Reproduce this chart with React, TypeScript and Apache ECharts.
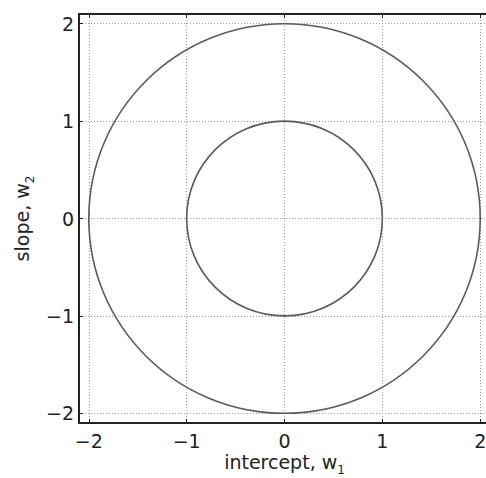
import React, { useEffect, useRef } from "react";
import * as echarts from "echarts";

const xTicks = [-2, -1, 0, 1, 2];
const yTicks = [-2, -1, 0, 1, 2];
const axisMin = -2.1;
const axisMax = 2.1;
// circles: [centerX, centerY, radius]
const circles = [
  [0, 0, 1],
  [0, 0, 2],
];
const xName = "intercept, w{sub|1}";
const yName = "slope, w{sub|2}";

const FONT = "DejaVu Sans";

const fmt = (v: number) => {
  if (!xTicks.includes(v) && !yTicks.includes(v)) return "";
  return v < 0 ? "\u2212" + Math.abs(v) : String(v);
};

export default function App() {
  const ref = useRef<HTMLDivElement>(null);
  useEffect(() => {
    document.body.style.margin = "0";
    const chart = echarts.init(ref.current!, null, { renderer: "svg" });
    const nameStyle = {
      fontFamily: FONT,
      fontSize: 19,
      color: "#222",
      lineHeight: 28,
      rich: {
        sub: { fontFamily: FONT, fontSize: 12, color: "#222", lineHeight: 10, verticalAlign: "bottom" },
      },
    };
    const commonAxis = {
      min: axisMin,
      max: axisMax,
      minInterval: 1,
      maxInterval: 1,
      axisLine: { show: true, onZero: false, lineStyle: { color: "#222", width: 2 } },
      axisTick: { show: true, inside: true, length: 4, lineStyle: { color: "#222", width: 1 } },
    };
    chart.setOption({
      animation: false,
      grid: {
        left: 79,
        top: 14,
        width: 411,
        height: 409,
        containLabel: false,
        outerBoundsMode: "none",
      },
      xAxis: [
        {
          ...commonAxis,
          type: "value",
          position: "bottom",
          name: xName,
          nameLocation: "middle",
          nameGap: 25,
          nameMoveOverlap: false,
          nameTextStyle: nameStyle,
          axisLabel: {
            fontFamily: FONT,
            fontSize: 19,
            color: "#222",
            margin: 8,
            showMinLabel: false,
            showMaxLabel: false,
            formatter: fmt,
          },
          splitLine: { show: true, lineStyle: { color: "#999", type: [1, 2], width: 1 } },
        },
        {
          ...commonAxis,
          type: "value",
          position: "top",
          axisLabel: { show: false },
          splitLine: { show: false },
        },
      ],
      yAxis: [
        {
          ...commonAxis,
          type: "value",
          position: "left",
          name: yName,
          nameLocation: "middle",
          nameGap: 43,
          nameMoveOverlap: false,
          nameRotate: 90,
          nameTextStyle: nameStyle,
          axisLabel: {
            fontFamily: FONT,
            fontSize: 19,
            color: "#222",
            margin: 5,
            showMinLabel: false,
            showMaxLabel: false,
            formatter: fmt,
          },
          splitLine: { show: true, lineStyle: { color: "#999", type: [1, 2], width: 1 } },
        },
        {
          ...commonAxis,
          type: "value",
          position: "right",
          axisLabel: { show: false },
          splitLine: { show: false },
        },
      ],
      series: [
        {
          type: "custom",
          xAxisIndex: 0,
          yAxisIndex: 0,
          data: circles,
          clip: false,
          renderItem: (params: any, api: any) => {
            const c = api.coord([api.value(0), api.value(1)]);
            const s = api.size([api.value(2), api.value(2)]);
            return {
              type: "ellipse",
              shape: { cx: c[0], cy: c[1], rx: s[0], ry: s[1] },
              style: { fill: "none", stroke: "#5a5a5a", lineWidth: 1.6 },
            };
          },
        },
      ],
    });
    return () => chart.dispose();
  }, []);
  return <div ref={ref} style={{ width: 486, height: 478 }} />;
}
